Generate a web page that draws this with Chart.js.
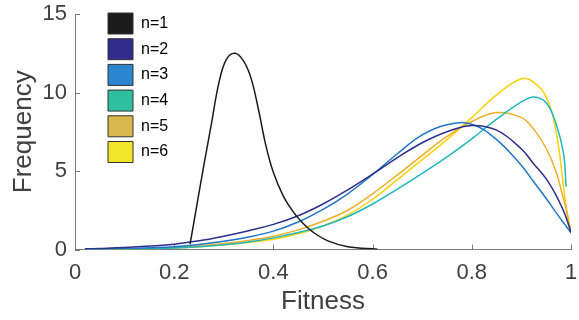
<!DOCTYPE html>
<html>
<head>
<meta charset="utf-8">
<script src="https://cdn.jsdelivr.net/npm/chart.js@4/dist/chart.umd.min.js"></script>
<style>
html,body{margin:0;padding:0;background:#fff;}
#wrap{width:579px;height:320px;}
</style>
</head>
<body>
<div id="wrap"><canvas id="c" width="579" height="320"></canvas></div>
<script>
// ---- data ----
const seriesLabels = ['n=1', 'n=2', 'n=3', 'n=4', 'n=5', 'n=6'];

const fitness1 = [0.232, 0.245, 0.26, 0.275, 0.29, 0.305, 0.3226, 0.34, 0.355, 0.37, 0.385, 0.4, 0.42, 0.44, 0.46, 0.48, 0.51, 0.55, 0.61];
const freq1    = [0.35, 2.7, 5.4, 8.0, 10.6, 12.1, 12.5, 12.0, 10.9, 8.9, 6.6, 4.9, 3.4, 2.4, 1.65, 1.1, 0.55, 0.18, 0.02];

const fitnessGrid = [0.02, 0.05, 0.1, 0.15, 0.2, 0.25, 0.3, 0.35, 0.4, 0.45, 0.5, 0.55, 0.6, 0.65, 0.7, 0.75, 0.8, 0.85, 0.9, 0.925, 0.95, 0.97, 0.985, 0.99, 1.0];
const freq2 = [0.04, 0.07, 0.13, 0.22, 0.34, 0.55, 0.85, 1.2, 1.6, 2.15, 2.9, 3.8, 4.8, 5.85, 6.8, 7.5, 7.9, 7.6, 6.4, 5.45, 4.5, 3.45, 2.45, 2.05, 1.1];
const freq3 = [0.02, 0.03, 0.06, 0.11, 0.18, 0.32, 0.53, 0.8, 1.17, 1.75, 2.55, 3.55, 4.78, 6.1, 7.3, 7.95, 7.98, 7.0, 5.35, 4.3, 3.25, 2.35, 1.7, 1.5, 1.05];
const freq4 = [0.01, 0.02, 0.03, 0.06, 0.1, 0.18, 0.3, 0.48, 0.74, 1.08, 1.5, 2.1, 2.9, 3.85, 4.85, 5.9, 7.05, 8.3, 9.4, 9.72, 9.35, 8.0, 6.1, 4.0, null];
const freq5 = [0.01, 0.02, 0.04, 0.07, 0.13, 0.23, 0.38, 0.58, 0.85, 1.25, 1.8, 2.5, 3.55, 4.75, 6.0, 7.2, 8.15, 8.72, 8.4, 7.65, 6.45, 4.95, 3.2, 2.6, 1.15];
const freq6 = [0.01, 0.02, 0.03, 0.06, 0.1, 0.18, 0.3, 0.45, 0.65, 1.0, 1.5, 2.2, 3.2, 4.45, 5.72, 7.0, 8.4, 9.85, 10.88, 10.65, 9.72, 7.5, 4.0, 2.75, 1.1];

const xTickValues = [0, 0.2, 0.4, 0.6, 0.8, 1];
const yTickValues = [0, 5, 10, 15];

// ---- styles ----
const lineColors   = ['#1a1a1a', '#2b2f8e', '#1f77c6', '#1fb8bd', '#efaf25', '#f8d20c'];
const legendColors = ['#1c1c1c', '#2f2c8c', '#2b86cf', '#2ebf9f', '#d9b84e', '#f2e62a'];
const FONT = "'Liberation Sans', Arial, Helvetica, sans-serif";
const AXIS_COLOR = '#7a7a7a';
const TEXT_COLOR = '#404040';

const toPoints = (xs, ys) => xs.map((x, i) => ({x: x, y: ys[i]}));

const seriesData = [
  toPoints(fitness1, freq1),
  toPoints(fitnessGrid, freq2),
  toPoints(fitnessGrid, freq3),
  toPoints(fitnessGrid, freq4),
  toPoints(fitnessGrid, freq5),
  toPoints(fitnessGrid, freq6)
];

const datasets = seriesLabels.map((lab, i) => ({
  label: lab,
  data: seriesData[i],
  borderColor: lineColors[i],
  backgroundColor: legendColors[i],
  borderWidth: 1.5,
  pointRadius: 0,
  showLine: true,
  fill: false,
  tension: 0.4,
  spanGaps: false
}));

const LEGEND_PAD = 4.7;

const inwardTicks = {
  id: 'inwardTicks',
  beforeDatasetsDraw(chart) {
    const {ctx, scales: {x, y}} = chart;
    ctx.save();
    ctx.strokeStyle = AXIS_COLOR;
    ctx.lineWidth = 1;
    ctx.beginPath();
    x.ticks.forEach(t => {
      const px = Math.round(x.getPixelForValue(t.value)) + 0.5;
      ctx.moveTo(px, y.bottom);
      ctx.lineTo(px, y.bottom - 5);
    });
    y.ticks.forEach(t => {
      const py = Math.round(y.getPixelForValue(t.value)) + 0.5;
      ctx.moveTo(x.left, py);
      ctx.lineTo(x.left + 5, py);
    });
    ctx.stroke();
    ctx.restore();
  }
};

const legendPlace = {
  id: 'legendPlace',
  afterLayout(chart) {
    const lg = chart.legend;
    if (lg) {
      lg.left = 108 - LEGEND_PAD;
      lg.top = 13 - LEGEND_PAD;
    }
  }
};

const hiddenGrid = (len) => ({
  display: true,
  drawOnChartArea: false,
  drawTicks: true,
  tickLength: len,
  color: 'rgba(0,0,0,0)'
});

new Chart(document.getElementById('c'), {
  type: 'scatter',
  data: {datasets: datasets},
  options: {
    responsive: false,
    animation: false,
    devicePixelRatio: 1,
    layout: {padding: {top: 14, right: 8, bottom: 0, left: 0}},
    plugins: {
      tooltip: {enabled: false},
      legend: {
        position: 'chartArea',
        align: 'start',
        labels: {
          boxWidth: 25,
          boxHeight: 21,
          padding: LEGEND_PAD,
          color: '#262626',
          font: {family: FONT, size: 16},
          generateLabels: (chart) => seriesLabels.map((lab, i) => ({
            text: lab,
            fillStyle: legendColors[i],
            strokeStyle: '#333333',
            lineWidth: 1,
            hidden: false,
            datasetIndex: i
          }))
        }
      }
    },
    scales: {
      x: {
        type: 'linear',
        min: 0,
        max: 1,
        grid: hiddenGrid(10),
        border: {display: true, color: AXIS_COLOR, width: 1},
        afterBuildTicks: (s) => { s.ticks = xTickValues.map(v => ({value: v})); },
        afterFit: (s) => { s.height = 70.5; },
        ticks: {
          color: TEXT_COLOR,
          padding: 0,
          maxRotation: 0,
          font: {family: FONT, size: 22},
          callback: (v) => String(v)
        },
        title: {
          display: true,
          text: 'Fitness',
          color: TEXT_COLOR,
          font: {family: FONT, size: 26},
          padding: {top: 0, bottom: 3}
        }
      },
      y: {
        type: 'linear',
        min: 0,
        max: 15,
        grid: hiddenGrid(8),
        border: {display: true, color: AXIS_COLOR, width: 1},
        afterBuildTicks: (s) => { s.ticks = yTickValues.map(v => ({value: v})); },
        afterFit: (s) => { s.width = 75; },
        ticks: {
          color: TEXT_COLOR,
          padding: 0,
          font: {family: FONT, size: 22},
          callback: (v) => String(v)
        },
        title: {
          display: true,
          text: 'Frequency',
          color: TEXT_COLOR,
          font: {family: FONT, size: 26},
          padding: {top: 8, bottom: 0}
        }
      }
    }
  },
  plugins: [inwardTicks, legendPlace]
});
</script>
</body>
</html>
